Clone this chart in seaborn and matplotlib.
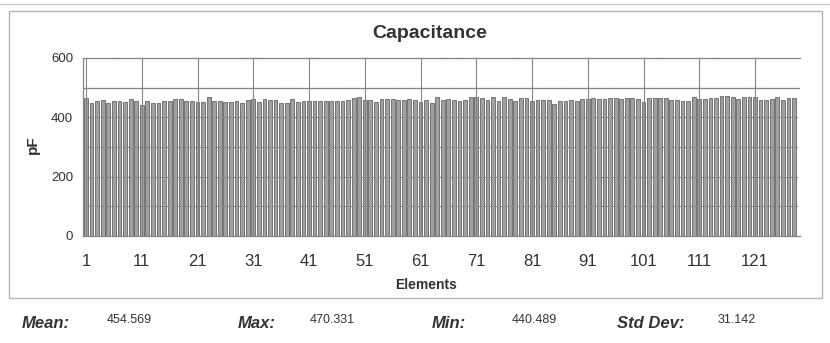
import matplotlib
matplotlib.use("Agg")
import matplotlib.pyplot as plt
import numpy as np
import pandas as pd
import seaborn as sns
from matplotlib.patches import Rectangle

# ---------------- data ----------------
elements = list(range(1, 129))
capacitance = [
    466, 449, 455, 458, 447, 455, 455, 453, 461, 456,
    441, 455, 449, 447, 455, 455, 461, 461, 456, 455,
    453, 453, 467, 455, 455, 453, 453, 455, 448, 458,
    461, 453, 461, 458, 458, 449, 449, 462, 453, 455,
    455, 456, 455, 455, 455, 455, 456, 458, 464, 470,
    458, 458, 452, 461, 462, 461, 458, 458, 461, 458,
    453, 458, 449, 467, 458, 463, 458, 455, 458, 470,
    470, 464, 458, 470, 455, 470, 461, 455, 464, 464,
    455, 458, 458, 458, 444, 455, 455, 458, 455, 461,
    461, 464, 461, 461, 464, 464, 461, 464, 464, 461,
    453, 466, 464, 464, 464, 458, 458, 455, 455, 467,
    462, 462, 466, 466, 471, 472, 467, 462, 470, 470,
    467, 458, 458, 462, 470, 458, 464, 464,
]
xtick_labels = [1, 11, 21, 31, 41, 51, 61, 71, 81, 91, 101, 111, 121]
ytick_values = [0, 200, 400, 600]
ytick_minor = [100, 300, 500]
stats_labels = ["Mean:", "Max:", "Min:", "Std Dev:"]
stats_values = ["454.569", "470.331", "440.489", "31.142"]

# ---------------- style ----------------
sns.set_theme(style="white")
plt.rcParams['font.family'] = ['Liberation Sans', 'DejaVu Sans']
txt = "#333333"
gridc = "#858585"

W, H = 830, 343
fig = plt.figure(figsize=(W / 100, H / 100), dpi=100)
fig.patch.set_facecolor("white")

# outer frame
fig.patches.append(Rectangle((9 / W, 1 - 298 / H), (822 - 9) / W, (298 - 11) / H,
                             transform=fig.transFigure, fill=False,
                             edgecolor="#b5b5b5", linewidth=1.0))
fig.add_artist(plt.Line2D([0, 1], [1 - 4 / H, 1 - 4 / H], transform=fig.transFigure,
                          color="#c8c8c8", linewidth=0.8))

ax = fig.add_axes([83 / W, 1 - 236 / H, (800 - 83) / W, (236 - 58) / H])
df = pd.DataFrame({"Element": elements, "pF": capacitance})
sns.barplot(data=df, x="Element", y="pF", native_scale=True, color="#a0a0a0",
            edgecolor="#666666", linewidth=0.6, width=0.68, saturation=1, ax=ax)

ax.set_xlim(0.46, 129.07)
ax.set_ylim(0, 600)
ax.set_xticks(xtick_labels)
ax.set_xticklabels([str(v) for v in xtick_labels], fontsize=12, color=txt)
ax.set_yticks(ytick_values)
ax.set_yticklabels([str(v) for v in ytick_values], fontsize=9.5, color=txt)
ax.set_yticks(ytick_minor, minor=True)

ax.set_axisbelow(False)
ax.grid(axis="x", which="major", color=gridc, linewidth=0.8, linestyle="-")
ax.grid(axis="y", which="both", color=gridc, linewidth=0.8, linestyle=(0, (3, 2)))
ax.axhline(500, color=gridc, linewidth=0.9, zorder=3)

for s in ["left", "top", "bottom"]:
    ax.spines[s].set_visible(True)
    ax.spines[s].set_color(gridc)
    ax.spines[s].set_linewidth(0.9)
ax.spines["right"].set_visible(False)
ax.tick_params(axis="x", which="major", direction="out", length=4, width=0.8,
               color=gridc, pad=9)
ax.tick_params(axis="y", which="major", direction="out", length=3, width=0.8,
               color=gridc, pad=4)
ax.tick_params(axis="y", which="minor", length=0)
ax.set_xlabel("")
ax.set_ylabel("")

fig.text(430 / W, 1 - 34 / H, "Capacitance", ha="center", va="center",
         fontsize=14, fontweight="bold", color=txt)
fig.text(426 / W, 1 - 285 / H, "Elements", ha="center", va="center",
         fontsize=10, fontweight="bold", color=txt)
fig.text(33 / W, 1 - 145 / H, "pF", ha="center", va="center", rotation=90,
         fontsize=11, fontweight="bold", color=txt)

label_x = [22, 238, 432, 617]
value_x = [107, 310, 512, 718]
for lx, vx, lab, val in zip(label_x, value_x, stats_labels, stats_values):
    fig.text(lx / W, 1 - 323 / H, lab, ha="left", va="center", fontsize=12,
             fontweight="bold", fontstyle="italic", color=txt)
    fig.text(vx / W, 1 - 320 / H, val, ha="left", va="center", fontsize=9,
             color=txt)

fig.savefig("out.png", dpi=100)
